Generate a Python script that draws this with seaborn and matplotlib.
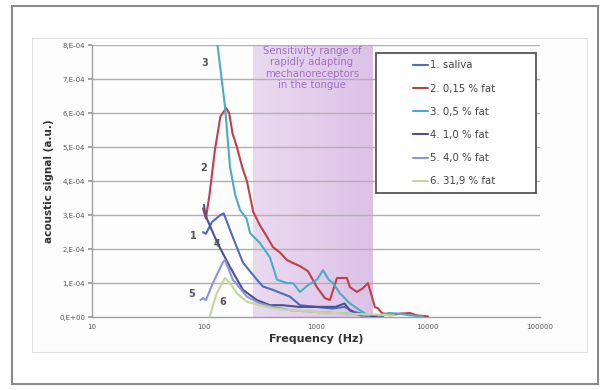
import numpy as np
import pandas as pd
import matplotlib
matplotlib.use("Agg")
import matplotlib.pyplot as plt
from matplotlib.patches import Rectangle
import seaborn as sns

# ---- data (frequency in Hz, signal in 1e-4 a.u.) ----
freq_saliva = [98, 104, 118, 140, 150, 181, 223, 297, 336, 413, 586, 720, 1000, 1400, 1800, 2200, 3000, 4000]
sig_saliva = [2.5, 2.45, 2.8, 3.0, 3.05, 2.35, 1.6, 1.1, 0.9, 0.8, 0.6, 0.35, 0.3, 0.25, 0.3, 0.15, 0.05, 0.03]

freq_015 = [98, 104, 112, 125, 140, 158, 168, 180, 197, 220, 242, 275, 316, 360, 413, 477, 551, 624, 720,
            849, 1020, 1200, 1333, 1540, 1890, 2013, 2325, 2630, 2913, 3162, 3365, 3577, 3883, 4580, 5620,
            6900, 8000, 10000]
sig_015 = [3.2, 2.9, 3.6, 4.9, 5.9, 6.15, 6.0, 5.4, 5.0, 4.4, 4.0, 3.1, 2.7, 2.4, 2.06, 1.9, 1.68, 1.59, 1.5,
           1.35, 0.88, 0.56, 0.5, 1.15, 1.15, 0.88, 0.74, 0.85, 1.0, 0.6, 0.29, 0.26, 0.12, 0.05, 0.1,
           0.12, 0.05, 0.02]

freq_05 = [98, 115, 131, 154, 171, 190, 210, 240, 258, 316, 388, 449, 550, 624, 720, 849, 1020, 1155,
           1300, 1419, 1638, 2013, 2473, 2913, 3500, 4500, 5500, 7000, 9000]
sig_05 = [11.6, 9.5, 8.1, 6.2, 4.4, 3.6, 3.15, 2.9, 2.47, 2.18, 1.76, 1.1, 1.0, 1.0, 0.74, 0.94, 1.1, 1.38,
          1.1, 1.0, 0.7, 0.4, 0.2, 0.05, 0.05, 0.12, 0.1, 0.05, 0.02]

freq_10 = [100, 102, 106, 131, 171, 223, 297, 388, 500, 700, 1000, 1500, 1800, 2000, 2500, 3500]
sig_10 = [3.3, 3.1, 2.9, 2.2, 1.47, 0.8, 0.5, 0.35, 0.35, 0.3, 0.3, 0.3, 0.4, 0.2, 0.05, 0.03]

freq_40 = [93, 98, 104, 120, 148, 154, 181, 242, 316, 413, 600, 1000, 2000, 3000]
sig_40 = [0.5, 0.56, 0.5, 1.0, 1.62, 1.68, 1.1, 0.6, 0.4, 0.3, 0.2, 0.15, 0.1, 0.05]

freq_319 = [112, 130, 154, 175, 197, 242, 274, 413, 600, 1000, 2000, 3000, 5000]
sig_319 = [0.0, 0.7, 1.15, 0.95, 0.7, 0.45, 0.4, 0.26, 0.2, 0.15, 0.1, 0.08, 0.05]

series_names = ["1. saliva", "2. 0,15 % fat", "3. 0,5 % fat", "4. 1,0 % fat", "5. 4,0 % fat", "6. 31,9 % fat"]
series_colors = ["#4f6db8", "#c0404a", "#4bacc6", "#4d4f98", "#8e94d8", "#c4d79b"]
series_freq = [freq_saliva, freq_015, freq_05, freq_10, freq_40, freq_319]
series_sig = [sig_saliva, sig_015, sig_05, sig_10, sig_40, sig_319]

y_ticks = [0, 1e-4, 2e-4, 3e-4, 4e-4, 5e-4, 6e-4, 7e-4, 8e-4]
y_tick_labels = ["0,E+00", "1,E-04", "2,E-04", "3,E-04", "4,E-04", "5,E-04", "6,E-04", "7,E-04", "8,E-04"]
x_ticks = [10, 100, 1000, 10000, 100000]
x_tick_labels = ["10", "100", "1000", "10000", "100000"]

band_lo, band_hi = 275, 3230

# curve number labels (label, freq, signal 1e-4)
curve_labels = [("3", 102, 7.47), ("2", 100, 4.38), ("1", 80, 2.38), ("4", 131, 2.15), ("5", 78, 0.68), ("6", 148, 0.44)]

frames = []
for name, f, s in zip(series_names, series_freq, series_sig):
    frames.append(pd.DataFrame({"freq": f, "signal": np.array(s) * 1e-4, "series": name}))
df = pd.concat(frames, ignore_index=True)

sns.set_theme(style="white")
plt.rcParams["font.family"] = ["DejaVu Sans"]

fig = plt.figure(figsize=(6.11, 3.90), dpi=100)

# outer frame and inner chart panel (drawn behind the axes)
fig.patches.append(Rectangle((0.0196, 0.0154), 0.959, 0.969, transform=fig.transFigure,
                             fill=False, edgecolor="#8a8a8a", linewidth=1.5, zorder=-2))
fig.patches.append(Rectangle((0.0524, 0.0974), 0.908, 0.805, transform=fig.transFigure,
                             facecolor="#fdfdfd", edgecolor="#e2e2e2", linewidth=0.8, zorder=-1))

ax = fig.add_axes([0.1506, 0.187, 0.733, 0.697])
ax.set_facecolor("none")
ax.set_xscale("log")
ax.set_xlim(10, 100000)
ax.set_ylim(0, 8e-4)

# shaded sensitivity band, light on the left, stronger towards the right
n_slices = 40
edges = np.logspace(np.log10(band_lo), np.log10(band_hi), n_slices + 1)
for i in range(n_slices):
    t = i / (n_slices - 1)
    a = 0.25 + 0.17 * t
    ax.axvspan(edges[i], edges[i + 1], color="#b070c8", alpha=a, lw=0, zorder=1)

for yt in y_ticks[1:]:
    ax.axhline(yt, color="#b0b0b0", lw=1.0, zorder=1.5)

sns.lineplot(data=df, x="freq", y="signal", hue="series", palette=series_colors,
             hue_order=series_names, estimator=None, sort=False, lw=1.5, ax=ax, zorder=3)

ax.set_yticks(y_ticks)
ax.set_yticklabels(y_tick_labels, fontsize=5, color="#555555")
ax.set_xticks(x_ticks)
ax.set_xticklabels(x_tick_labels, fontsize=5, color="#555555")
ax.minorticks_off()
ax.tick_params(axis="y", length=3, color="#999999", pad=2, left=True)
ax.tick_params(axis="x", length=0, pad=5)
for side in ["top", "right"]:
    ax.spines[side].set_visible(False)
for side in ["left", "bottom"]:
    ax.spines[side].set_color("#a0a0a0")
    ax.spines[side].set_linewidth(1.0)

ax.set_xlabel("Frequency (Hz)", fontsize=8, fontweight="bold", color="#333333", labelpad=3)
ax.set_ylabel("acoustic signal (a.u.)", fontsize=7.5, fontweight="bold", color="#333333", labelpad=4)

ax.text(922, 7.97e-4, "Sensitivity range of\nrapidly adapting\nmechanoreceptors\nin the tongue",
        ha="center", va="top", fontsize=7.3, color="#a070c4", linespacing=1.15, zorder=4)

for lab, fx, sy in curve_labels:
    ax.text(fx, sy * 1e-4, lab, fontsize=7, color="#555555", fontweight="bold", ha="center", va="center", zorder=4)

# legend: framed box drawn separately, entries indented like the original
ax.add_patch(Rectangle((0.634, 0.456), 0.357, 0.515, transform=ax.transAxes,
                       facecolor="white", edgecolor="#555555", linewidth=1.3, zorder=5))
leg = ax.legend(loc="upper left", bbox_to_anchor=(0.716, 0.944), fontsize=7.3, frameon=False,
                handlelength=1.5, handletextpad=0.25, labelspacing=1.3, borderpad=0, borderaxespad=0)
leg.set_zorder(6)
for t in leg.get_texts():
    t.set_color("#444444")

fig.savefig("out.png", dpi=100)
